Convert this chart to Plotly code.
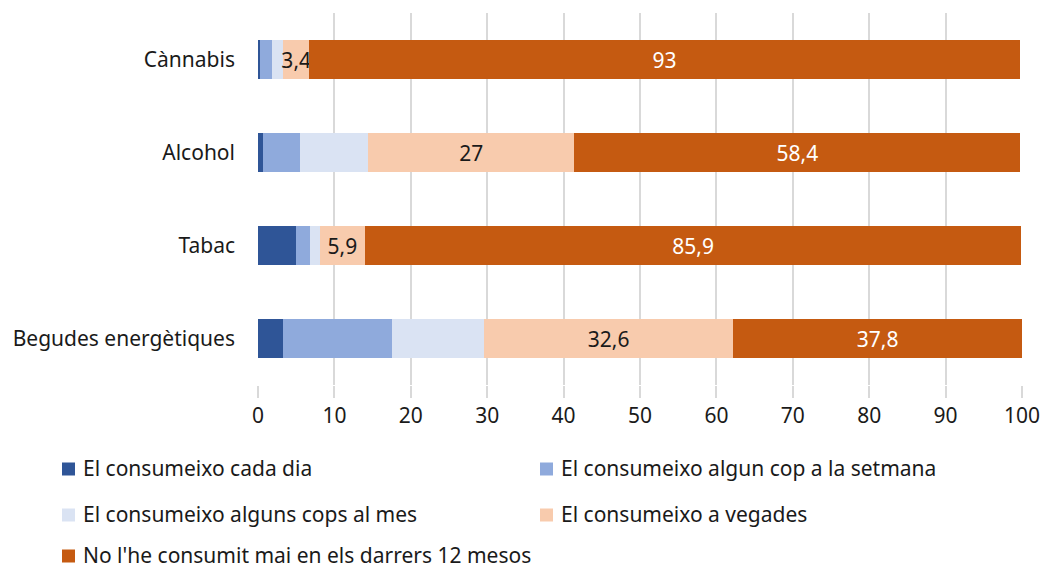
import plotly.graph_objects as go

# Substances, listed top to bottom
categories = ["Cànnabis", "Alcohol", "Tabac", "Begudes energètiques"]

series_names = [
    "El consumeixo cada dia",
    "El consumeixo algun cop a la setmana",
    "El consumeixo alguns cops al mes",
    "El consumeixo a vegades",
    "No l'he consumit mai en els darrers 12 mesos",
]

cada_dia = [0.3, 0.7, 5.0, 3.3]
setmana = [1.5, 4.8, 1.8, 14.3]
mes = [1.5, 8.9, 1.3, 12.0]
vegades = [3.4, 27.0, 5.9, 32.6]
mai = [93.0, 58.4, 85.9, 37.8]

series_values = [cada_dia, setmana, mes, vegades, mai]
colors = ["#2F5597", "#8FAADC", "#DAE3F3", "#F8CBAD", "#C55A11"]
show_labels = [False, False, False, True, True]
label_colors = ["#000000", "#000000", "#000000", "#1a1a1a", "#ffffff"]

x_ticks = [0, 10, 20, 30, 40, 50, 60, 70, 80, 90, 100]

FONT = "Noto Sans"
FSIZE = 21


def fmt(v):
    s = f"{v:g}"
    return s.replace(".", ",")


fig = go.Figure()
for name, vals, col, lab, lcol in zip(series_names, series_values, colors,
                                      show_labels, label_colors):
    fig.add_trace(go.Bar(
        name=name,
        y=categories,
        x=vals,
        orientation="h",
        marker=dict(color=col, line=dict(width=0)),
        text=[fmt(v) for v in vals] if lab else None,
        textposition="inside" if lab else "none",
        insidetextanchor="middle",
        textangle=0,
        constraintext="none",
        textfont=dict(family=FONT, size=FSIZE, color=lcol),
        showlegend=False,
        hoverinfo="x+y+name",
    ))

fig.update_layout(
    barmode="stack",
    bargap=0.585,
    width=1042,
    height=571,
    margin=dict(l=258, r=20, t=13, b=186),
    paper_bgcolor="white",
    plot_bgcolor="white",
    font=dict(family=FONT, size=FSIZE, color="#1a1a1a"),
    xaxis=dict(
        range=[0, 100],
        tickvals=x_ticks,
        automargin=False,
        showgrid=True,
        gridcolor="#d9d9d9",
        gridwidth=2,
        zeroline=False,
        ticks="outside",
        ticklen=12,
        tickwidth=2,
        tickcolor="#d9d9d9",
        showline=False,
        tickfont=dict(family=FONT, size=FSIZE, color="#1a1a1a"),
    ),
    yaxis=dict(
        categoryorder="array",
        categoryarray=categories,
        autorange="reversed",
        automargin=False,
        showgrid=False,
        zeroline=False,
        ticks="",
        ticklabelstandoff=22,
        tickfont=dict(family=FONT, size=FSIZE, color="#1a1a1a"),
    ),
)

# Legend drawn as colour squares with captions in two columns
legend_pos = [(62, 469), (540, 469), (62, 515), (540, 515), (62, 556)]
for name, col, (px, py) in zip(series_names, colors, legend_pos):
    fig.add_shape(
        type="rect", xref="paper", yref="paper",
        x0=(px - 258) / 764, x1=(px + 13 - 258) / 764,
        y0=(571 - 186 - (py + 6.5)) / 372, y1=(571 - 186 - (py - 6.5)) / 372,
        fillcolor=col, line=dict(width=0),
    )
    fig.add_annotation(
        xref="paper", yref="paper",
        x=(px + 19 - 258) / 764, y=(571 - 186 - py + 1) / 372,
        xanchor="left", yanchor="middle",
        text=name, showarrow=False,
        font=dict(family=FONT, size=FSIZE, color="#1a1a1a"),
    )

fig.write_html("out.html")
